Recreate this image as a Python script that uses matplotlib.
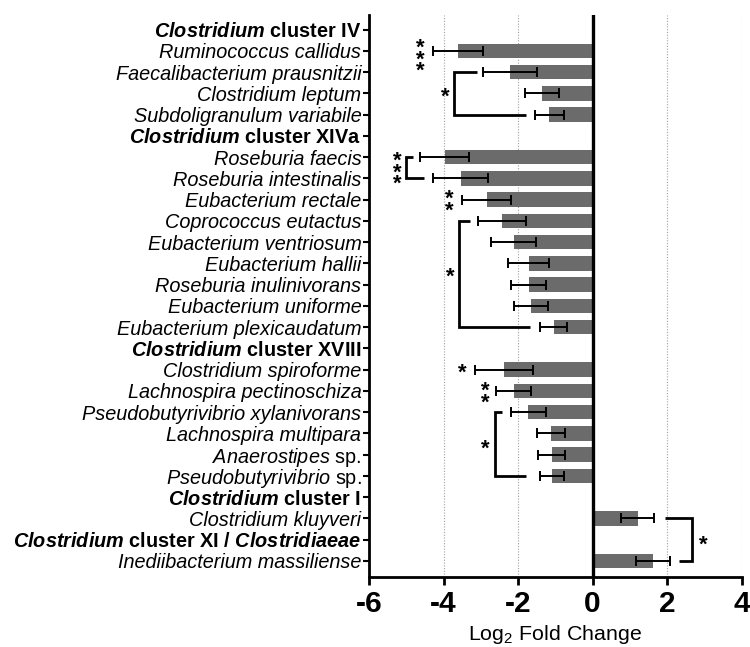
import numpy as np
import matplotlib
matplotlib.use("Agg")
import matplotlib.pyplot as plt

plt.rcParams['font.family'] = ['Liberation Sans', 'DejaVu Sans']
plt.rcParams['mathtext.fontset'] = 'custom'
plt.rcParams['mathtext.rm'] = 'Liberation Sans'
plt.rcParams['mathtext.it'] = 'Liberation Sans:italic'
plt.rcParams['mathtext.bf'] = 'Liberation Sans:bold'
plt.rcParams['mathtext.bfit'] = 'Liberation Sans:italic:bold'

# rows top -> bottom; headers have no value
row_labels = [
    r"$\mathbfit{Clostridium}$ cluster IV",
    "Ruminococcus callidus",
    "Faecalibacterium prausnitzii",
    "Clostridium leptum",
    "Subdoligranulum variabile",
    r"$\mathbfit{Clostridium}$ cluster XIVa",
    "Roseburia faecis",
    "Roseburia intestinalis",
    "Eubacterium rectale",
    "Coprococcus eutactus",
    "Eubacterium ventriosum",
    "Eubacterium hallii",
    "Roseburia inulinivorans",
    "Eubacterium uniforme",
    "Eubacterium plexicaudatum",
    r"$\mathbfit{Clostridium}$ cluster XVIII",
    "Clostridium spiroforme",
    "Lachnospira pectinoschiza",
    "Pseudobutyrivibrio xylanivorans",
    "Lachnospira multipara",
    r"$\mathit{Anaerostipes}$ sp.",
    r"$\mathit{Pseudobutyrivibrio}$ sp.",
    r"$\mathbfit{Clostridium}$ cluster I",
    "Clostridium kluyveri",
    r"$\mathbfit{Clostridium}$ cluster XI / $\mathbfit{Clostridiaeae}$",
    "Inediibacterium massiliense",
]
row_kind = ["head", "sp", "sp", "sp", "sp", "head", "sp", "sp", "sp", "sp", "sp",
            "sp", "sp", "sp", "sp", "head", "sp", "sp", "sp", "sp", "plain", "plain",
            "head", "sp", "head", "sp"]
nan = np.nan
fold_change = [nan, -3.62, -2.21, -1.36, -1.16, nan, -3.97, -3.54, -2.84, -2.43, -2.12,
               -1.72, -1.72, -1.66, -1.04, nan, -2.38, -2.12, -1.73, -1.12, -1.10, -1.09,
               nan, 1.21, nan, 1.62]
fold_err = [nan, 0.67, 0.72, 0.46, 0.40, nan, 0.65, 0.73, 0.66, 0.64, 0.60,
            0.54, 0.48, 0.45, 0.36, nan, 0.78, 0.47, 0.47, 0.37, 0.37, 0.33,
            nan, 0.44, nan, 0.45]

# significance brackets: (row_top, row_bottom, x_vertical, x_top_end, x_bottom_end)
brackets = [
    (2, 4, -3.72, -3.09, -1.80),
    (6, 7, -5.00, -4.83, -4.53),
    (9, 14, -3.58, -3.30, -1.69),
    (18, 21, -2.61, -2.43, -1.80),
    (23, 25, 2.67, 1.93, 2.31),
]
# significance stars: (x, row, number of stars) - several are stacked vertically
stars = [
    (-4.63, 1.15, 3), (-3.95, 2.92, 1), (-5.24, 6.47, 3), (-3.85, 8.0, 2),
    (-3.83, 11.38, 1), (-3.50, 15.93, 1), (-2.89, 17.04, 2), (-2.87, 19.5, 1),
    (2.96, 24.0, 1),
]

fig = plt.figure(figsize=(7.5, 6.47), dpi=100)
ax = fig.add_axes([0.492, 0.108, 0.497, 0.869])

y = np.arange(len(row_labels))
vals = np.array(fold_change)
errs = np.array(fold_err)
ok = ~np.isnan(vals)

ax.barh(y[ok], vals[ok], height=0.68, color="#6b6b6b", zorder=2)
ax.errorbar(vals[ok], y[ok], xerr=errs[ok], fmt="none", ecolor="black",
            elinewidth=1.4, capsize=3.8, capthick=1.4, zorder=3)
ax.axvline(0, color="black", lw=2.4, zorder=4)

for r0, r1, xv, xt, xb in brackets:
    ax.plot([xt, xv, xv, xb], [r0, r0, r1, r1], color="black", lw=2, zorder=3,
            solid_capstyle="butt", solid_joinstyle="miter")

# stacked stars as one multi-line text; asterisk sits high in its box so nudge down
for x, r, n in stars:
    ax.annotate("\n".join(["*"] * n), (x, r), xytext=(0, -4), textcoords="offset points",
                ha="center", va="center", multialignment="center",
                fontsize=16, fontweight="bold", linespacing=0.4)

ax.set_xlim(-6, 4)
ax.set_ylim(25.77, -0.7)
ax.set_xticks([-6, -4, -2, 0, 2, 4])
ax.set_xticklabels(["-6", "-4", "-2", "0", "2", "4"], fontsize=21.5, fontweight="bold")
ax.set_yticks(y)
ax.set_yticklabels(row_labels, fontsize=14.3)
for lab, kind in zip(ax.get_yticklabels(), row_kind):
    if kind == "head":
        lab.set_fontweight("bold")
    elif kind == "sp":
        lab.set_fontstyle("italic")

ax.xaxis.grid(True, linestyle=(0, (1, 1.5)), color="#a0a0a0", lw=0.8, zorder=0)
ax.set_axisbelow(True)
for side in ["top", "right"]:
    ax.spines[side].set_visible(False)
ax.spines["left"].set_linewidth(2)
ax.spines["bottom"].set_linewidth(2)
ax.tick_params(axis="y", length=4, width=1.5, pad=1.5)
ax.tick_params(axis="x", length=6, width=2, pad=3)

ax.set_xlabel(r"Log$_2$ Fold Change", fontsize=15.4)
ax.xaxis.set_label_coords(0.5, -0.082)

fig.savefig("out.png", dpi=100)
